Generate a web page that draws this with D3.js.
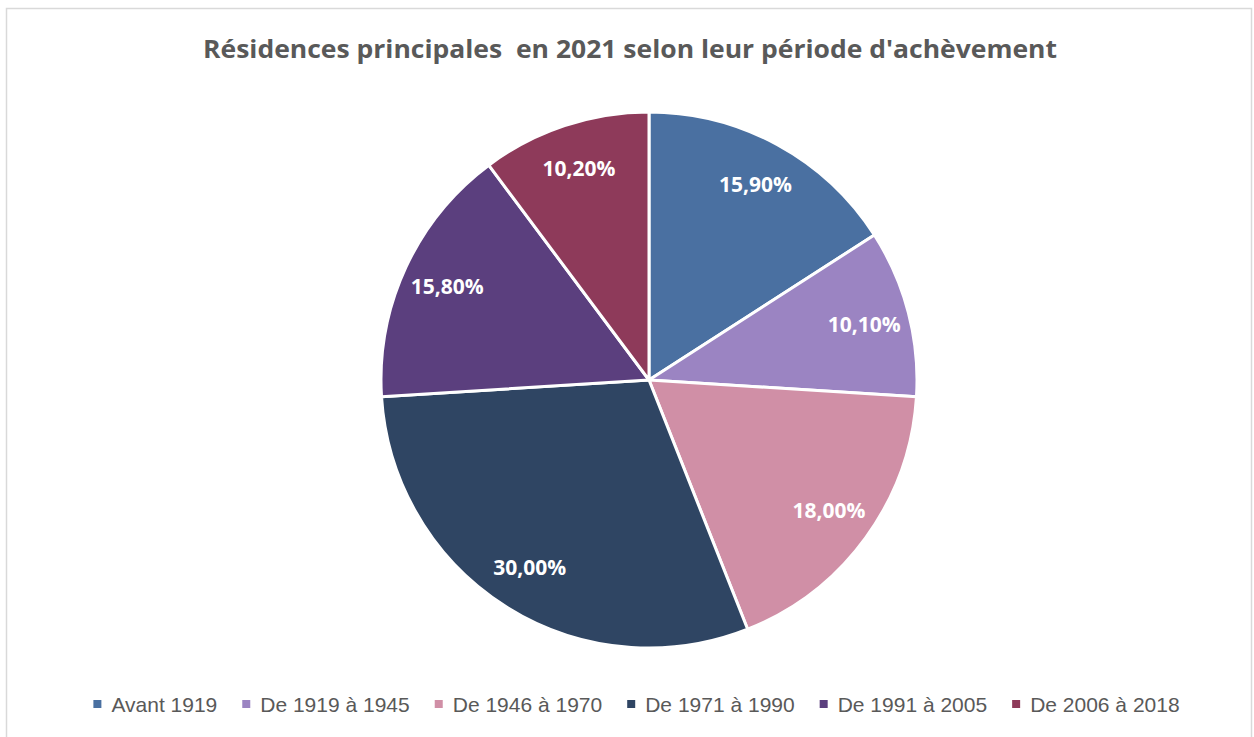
<!DOCTYPE html>
<html><head><meta charset="utf-8">
<script src="https://cdn.jsdelivr.net/npm/d3@7"></script>
<style>
html,body{margin:0;padding:0;background:#fff;}
svg{display:block;}
</style></head>
<body>
<svg id="chart" width="1254" height="737"></svg>
<script>
const categories = ["Avant 1919","De 1919 à 1945","De 1946 à 1970","De 1971 à 1990","De 1991 à 2005","De 2006 à 2018"];
const values = [15.9, 10.1, 18.0, 30.0, 15.8, 10.2];
const labels = ["15,90%","10,10%","18,00%","30,00%","15,80%","10,20%"];
const colors = ["#4a70a1","#9b84c2","#d08fa6","#2f4563","#5b3f7e","#8e3a5a"];
const title = "Résidences principales  en 2021 selon leur période d'achèvement";

const svg = d3.select("#chart");

// border
svg.append("rect").attr("x",6.5).attr("y",8.5).attr("width",1245).attr("height",740)
  .attr("fill","#fff").attr("stroke","#d9d9d9").attr("stroke-width",1.5);

svg.append("text").attr("x",630).attr("y",58).attr("text-anchor","middle")
  .attr("font-family","'Open Sans', sans-serif").attr("font-weight","bold")
  .attr("font-size",25).attr("fill","#595959")
  .attr("textLength",854).attr("lengthAdjust","spacingAndGlyphs")
  .style("white-space","pre")
  .text(title);

const cx = 649, cy = 380, R = 268;
const data = categories.map((c,i)=>({cat:c,value:values[i],label:labels[i],color:colors[i]}));
const pie = d3.pie().sort(null).value(d=>d.value);
const arc = d3.arc().innerRadius(0).outerRadius(R);
const labelArc = d3.arc().innerRadius(R*0.83).outerRadius(R*0.83);
const g = svg.append("g").attr("transform",`translate(${cx},${cy})`);
const arcs = pie(data);
g.selectAll("path").data(arcs).join("path")
  .attr("d",arc).attr("fill",d=>d.data.color)
  .attr("stroke","#fff").attr("stroke-width",3).attr("stroke-linejoin","round");
g.selectAll("text").data(arcs).join("text")
  .attr("transform",d=>`translate(${labelArc.centroid(d)})`)
  .attr("text-anchor","middle").attr("dy","0.36em")
  .attr("font-family","'Open Sans', sans-serif").attr("font-weight","bold")
  .attr("font-size",21).attr("fill","#fff")
  .text(d=>d.data.label);

// legend
const legend = svg.append("g").attr("transform","translate(0,704)");
const legFont = "'Liberation Sans', Arial, sans-serif";
const fs = 21;
const tmp = legend.append("text").attr("font-family",legFont).attr("font-size",fs);
const widths = categories.map(c=>{tmp.text(c); return tmp.node().getComputedTextLength();});
tmp.remove();
const sq = 8, gapSq = 10, gapItem = 25;
const total = d3.sum(widths) + categories.length*(sq+gapSq) + (categories.length-1)*gapItem;
let x = 636.5 - total/2;
categories.forEach((c,i)=>{
  legend.append("rect").attr("x",x).attr("y",-sq/2).attr("width",sq).attr("height",sq).attr("fill",colors[i]);
  legend.append("text").attr("x",x+sq+gapSq).attr("y",0).attr("dy","0.36em")
    .attr("font-family",legFont).attr("font-size",fs).attr("fill","#595959").text(c);
  x += sq+gapSq+widths[i]+gapItem;
});
</script>
</body></html>
